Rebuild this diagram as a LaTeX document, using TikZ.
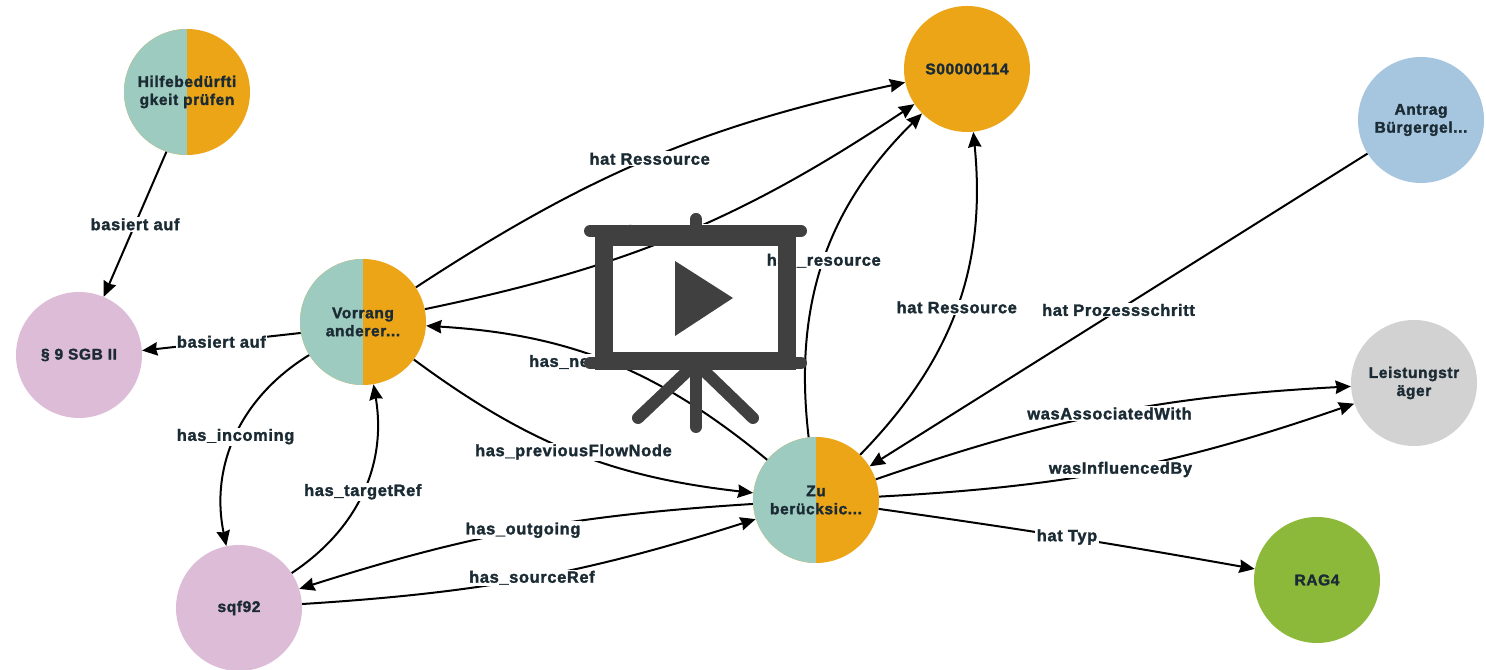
\documentclass[tikz,border=0pt]{standalone}
\usepackage{fontspec}
\setmainfont{Liberation Sans}[FakeBold=1.8,LetterSpace=4]
\usetikzlibrary{arrows.meta}
\definecolor{tealhalf}{HTML}{9ECBC0}
\definecolor{orangehalf}{HTML}{EDA518}
\definecolor{pinknode}{HTML}{DDBCD8}
\definecolor{bluenode}{HTML}{A6C5DF}
\definecolor{graynode}{HTML}{D2D2D2}
\definecolor{greennode}{HTML}{8DB93B}
\definecolor{labeltext}{HTML}{1B2B34}
\definecolor{icongray}{HTML}{404040}
\tikzset{
    entity/.style={circle, minimum size=94.5pt, inner sep=0pt, align=center,
        text=labeltext, font=\bfseries\fontsize{11.6}{13.5}\selectfont},
    halfnode/.style={entity, fill=orangehalf, path picture={
        \fill[tealhalf] (path picture bounding box.south west) rectangle
            (path picture bounding box.north);}},
    edge/.style={line width=1.5pt, black, -{Stealth[length=11.5pt,width=10pt,inset=1pt]}},
    rel/.style={fill=white, inner sep=1pt, text=labeltext,
        font=\bfseries\fontsize{12.3}{14}\selectfont},
    icon/.style={icongray, line cap=round}
}
\begin{document}
\begin{tikzpicture}[x=0.75pt,y=0.75pt]
    \useasboundingbox (0,0) rectangle (1486,670);
    \begin{scope} % Circles
        \node[halfnode] (hilfe) at (187,578) {Hilfebedürfti\\gkeit prüfen};
        \node[entity, fill=pinknode] (sgb) at (79,315) {§ 9 SGB II};
        \node[halfnode] (vorrang) at (363,348) {Vorrang\\anderer...};
        \node[entity, fill=orangehalf] (ressource) at (967,601) {S00000114};
        \node[entity, fill=bluenode] (antrag) at (1421,550) {Antrag\\Bürgergel...};
        \node[entity, fill=graynode] (traeger) at (1414,287) {Leistungstr\\äger};
        \node[halfnode] (zu) at (816,170) {Zu\\berücksic...};
        \node[entity, fill=pinknode] (sqf) at (239,62) {sqf92};
        \node[entity, fill=greennode] (typ) at (1317,90) {RAG4};
    \end{scope}
    \begin{scope} % Left part
        \draw[edge] (hilfe.251) -- node[rel] {basiert auf} (sgb.67);
        \draw[edge] (vorrang.190) -- node[rel] {basiert auf} (sgb.4);
        \draw[edge] (vorrang) to[bend right=35] node[rel] {has\_incoming} (sqf);
        \draw[edge] (sqf) to[bend right=33] node[rel] {has\_targetRef} (vorrang);
        \draw[edge] (zu) to[bend right=7] node[rel] {has\_outgoing} (sqf);
        \draw[edge] (sqf) to[bend right=7] node[rel] {has\_sourceRef} (zu);
    \end{scope}
    \begin{scope} % Between Vorrang and the others
        \draw[edge] (vorrang) to[bend left=10.5] node[rel] {hat Ressource} (ressource);
        \draw[edge] (vorrang) to[bend right=11] node[rel, xshift=3pt, yshift=1.5pt] {has\_resource} (ressource);
        \draw[edge] (zu) to[bend right=18] node[rel] {has\_nextFlowNode} (vorrang);
        \draw[edge] (vorrang) to[bend right=15] node[rel] {has\_previousFlowNode} (zu);
    \end{scope}
    \begin{scope} % Right part
        \draw[edge] (zu) to[bend left=26] node[rel] {has\_resource} (ressource);
        \draw[edge] (zu) to[bend right=25] node[rel] {hat Ressource} (ressource);
        \draw[edge] (antrag) -- node[rel] {hat Prozessschritt} (zu);
        \draw[edge] (zu) to[bend left=8] node[rel] {wasAssociatedWith} (traeger);
        \draw[edge] (zu) to[bend right=8] node[rel] {wasInfluencedBy} (traeger);
        \draw[edge] (zu) to[bend left=1] node[rel] {hat Typ} (typ);
    \end{scope}
    \begin{scope}[icon] % Play icon
        \draw[line width=13.5pt, line cap=butt] (604,309) rectangle (787,433);
        \draw[line width=9pt] (590,439) -- (801,439);
        \draw[line width=9pt] (590,307) -- (801,307);
        \draw[line width=9pt] (696,439) -- (696,451);
        \draw[line width=9pt] (696,307) -- (696,243);
        \foreach \x in {638,753}
            \draw[line width=9pt] (696,307) -- (\x,252);
        \fill (675,409) -- (675,334) -- (733,372) -- cycle;
    \end{scope}
\end{tikzpicture}
\end{document}
